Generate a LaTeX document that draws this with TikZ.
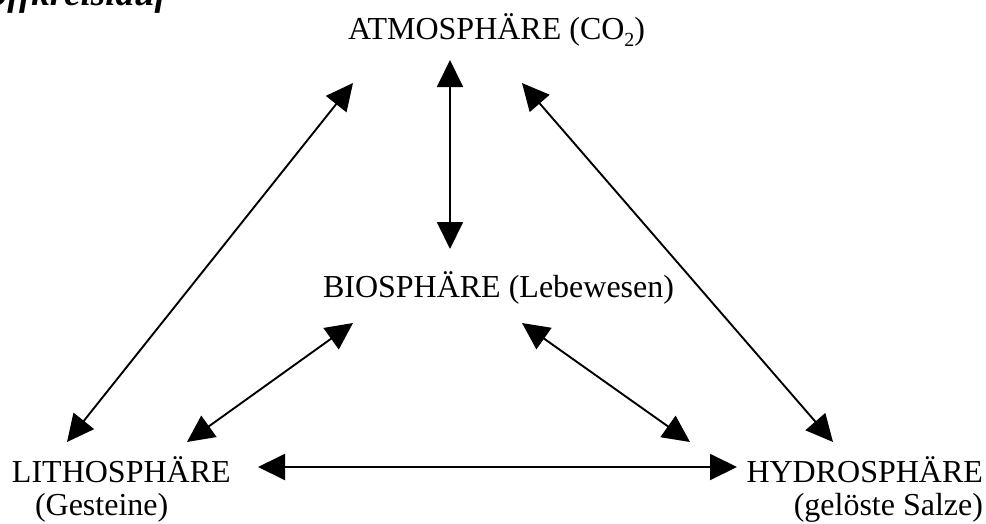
\documentclass[tikz,border=0pt]{standalone}
\usepackage{fontspec}
\setmainfont{Liberation Serif}
\newfontfamily\titlefont[BoldItalicFont={Liberation Serif Bold Italic}]{Liberation Serif}
\usetikzlibrary{arrows.meta}
\tikzset{
  lbl/.style={inner sep=0pt, outer sep=0pt, anchor=base west, font=\fontsize{32}{36}\selectfont},
  lblr/.style={lbl, anchor=base east},
  ttl/.style={inner sep=0pt, outer sep=0pt, anchor=base east, font=\titlefont\fontsize{37}{42}\selectfont\bfseries\itshape},
  biarrow/.style={line width=1.9pt, {Triangle[length=27pt,width=26pt]}-{Triangle[length=27pt,width=26pt]}}
}
\begin{document}
\begin{tikzpicture}[x=1pt,y=-1pt]
\clip (0,0) rectangle (986,523);
\fill[white] (0,0) rectangle (986,523);
% title (cut off at the top, as in the reference)
\node[ttl] (title) at (167,5) {Kohlenstoffkreislauf};
% spheres
\node[lbl] (atmo) at (348,39) {ATMOSPHÄRE (CO\raisebox{-0.22em}{\fontsize{20}{20}\selectfont 2})};
\node[lbl] (bio) at (323,297) {BIOSPHÄRE (Lebewesen)};
\node[lbl] (litho) at (12,482) {LITHOSPHÄRE};
\node[lbl] (lithosub) at (35,515) {(Gesteine)};
\node[lblr] (hydro) at (983,482) {HYDROSPHÄRE};
\node[lblr] (hydrosub) at (983,515) {(gelöste Salze)};
% arrow ends
\coordinate (aL) at (353,83);
\coordinate (lA) at (67,442);
\coordinate (aB) at (450,60);
\coordinate (bA) at (450,249);
\coordinate (aR) at (522,83);
\coordinate (hA) at (833,442);
\coordinate (bL) at (353,323);
\coordinate (lB) at (187,442);
\coordinate (bR) at (522,323);
\coordinate (hB) at (690,442);
\coordinate (lH) at (258,467);
\coordinate (hL) at (737,467);
% connectors
\draw[biarrow] (aL) -- (lA);
\draw[biarrow] (aB) -- (bA);
\draw[biarrow] (aR) -- (hA);
\draw[biarrow] (bL) -- (lB);
\draw[biarrow] (bR) -- (hB);
\draw[biarrow] (lH) -- (hL);
\end{tikzpicture}
\end{document}
